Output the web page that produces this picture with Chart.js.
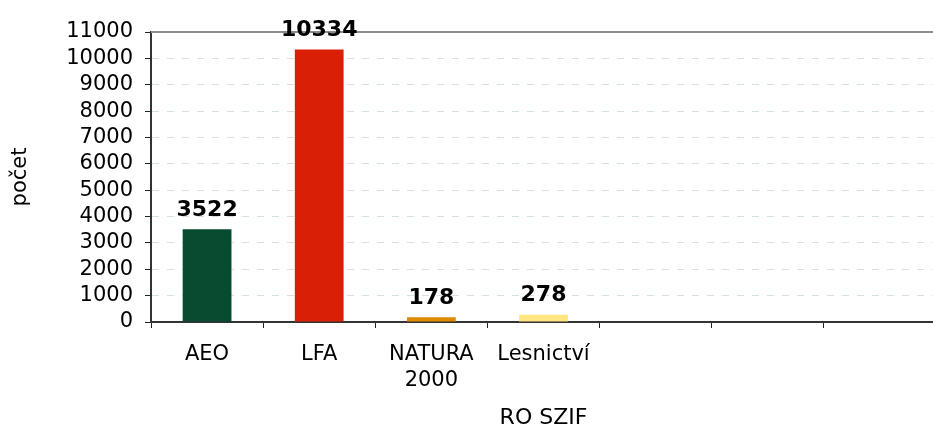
<!DOCTYPE html>
<html>
<head>
<meta charset="utf-8">
<script src="https://cdn.jsdelivr.net/npm/chart.js@4/dist/chart.umd.min.js"></script>
<style>
html,body{margin:0;padding:0;overflow:hidden;background:#fff;}
#wrap{width:937px;height:426px;}
</style>
</head>
<body>
<div id="wrap"><canvas id="c" width="937" height="426"></canvas></div>
<script>
const categories = ['AEO', 'LFA', ['NATURA', '2000'], 'Lesnictví', '', '', ''];
const values = [3522, 10334, 178, 278, null, null, null];
const barColors = ['#074b30', '#d91f06', '#e08a00', '#ffe680', '#000', '#000', '#000'];
const yTicks = [0, 1000, 2000, 3000, 4000, 5000, 6000, 7000, 8000, 9000, 10000, 11000];
const yTitle = 'počet';
const xTitle = 'RO SZIF';

const FONT = "'DejaVu Sans', Verdana, sans-serif";

const valueLabels = {
  id: 'valueLabels',
  afterDatasetsDraw(chart) {
    const ctx = chart.ctx;
    const meta = chart.getDatasetMeta(0);
    ctx.save();
    ctx.font = 'bold 22px ' + FONT;
    ctx.fillStyle = '#000';
    ctx.textAlign = 'center';
    ctx.textBaseline = 'bottom';
    meta.data.forEach((el, i) => {
      const v = chart.data.datasets[0].data[i];
      if (v === null || v === undefined) return;
      ctx.fillText(String(v), el.x, el.y - 8);
    });
    ctx.restore();
  }
};

const topBorder = {
  id: 'topBorder',
  beforeDatasetsDraw(chart) {
    const {ctx, chartArea} = chart;
    ctx.save();
    ctx.strokeStyle = '#8c8c8c';
    ctx.lineWidth = 2;
    ctx.beginPath();
    ctx.moveTo(chartArea.left, chartArea.top);
    ctx.lineTo(chartArea.right + 5, chartArea.top);
    ctx.stroke();
    ctx.restore();
  }
};

new Chart(document.getElementById('c'), {
  type: 'bar',
  data: {
    labels: categories,
    datasets: [{
      data: values,
      backgroundColor: barColors,
      barPercentage: 0.435,
      categoryPercentage: 1.0
    }]
  },
  options: {
    responsive: false,
    animation: false,
    layout: { padding: { top: 32, right: 1, left: 0, bottom: 0 } },
    plugins: { legend: { display: false }, tooltip: { enabled: false } },
    scales: {
      x: {
        offset: true,
        grid: {
          offset: true,
          drawOnChartArea: false,
          drawTicks: true,
          tickLength: 6,
          tickColor: '#222',
          tickWidth: 1
        },
        border: { display: true, color: '#333', width: 2 },
        ticks: {
          color: '#000',
          font: { family: FONT, size: 21, lineHeight: 1.25 },
          padding: 13,
          maxRotation: 0,
          autoSkip: false
        },
        title: {
          display: true,
          text: xTitle,
          color: '#000',
          font: { family: FONT, size: 22, lineHeight: 0.7 },
          padding: { top: 0, bottom: 0 }
        },
        afterFit(scale) { scale.height = 104; }
      },
      y: {
        min: 0,
        max: 11000,
        afterBuildTicks(scale) { scale.ticks = yTicks.map(v => ({ value: v })); },
        grid: {
          color: (ctx) => (ctx.tick && (ctx.tick.value === 0 || ctx.tick.value === 11000)) ? 'rgba(0,0,0,0)' : '#d3e2de',
          lineWidth: 1,
          drawTicks: true,
          tickLength: 6,
          tickColor: '#222',
          tickWidth: 1
        },
        border: { display: true, color: '#333', width: 2, dash: [7, 8] },
        ticks: {
          color: '#000',
          font: { family: FONT, size: 21 },
          padding: 12,
          autoSkip: false,
          callback: (v) => String(v)
        },
        title: {
          display: true,
          text: yTitle,
          color: '#000',
          font: { family: FONT, size: 21 },
          padding: { top: 8, bottom: 0 }
        },
        afterFit(scale) { scale.width = 151; }
      }
    }
  },
  plugins: [valueLabels, topBorder]
});
</script>
</body>
</html>
